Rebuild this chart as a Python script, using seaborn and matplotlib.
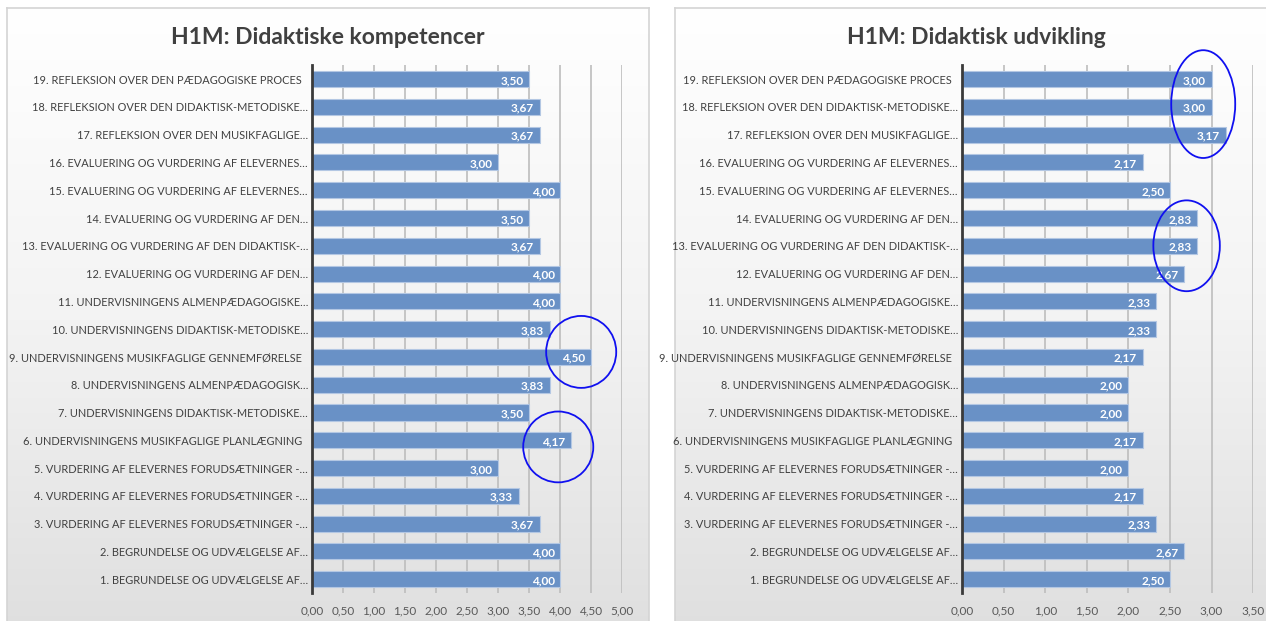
import numpy as np
import pandas as pd
import matplotlib
matplotlib.use("Agg")
import matplotlib.pyplot as plt
from matplotlib.patches import Ellipse
import seaborn as sns

# data, item 1 .. 19
items = [
    "1. BEGRUNDELSE OG UDVÆLGELSE AF…",
    "2. BEGRUNDELSE OG UDVÆLGELSE AF…",
    "3. VURDERING AF ELEVERNES FORUDSÆTNINGER -…",
    "4. VURDERING AF ELEVERNES FORUDSÆTNINGER -…",
    "5. VURDERING AF ELEVERNES FORUDSÆTNINGER -…",
    "6. UNDERVISNINGENS MUSIKFAGLIGE PLANLÆGNING  ",
    "7. UNDERVISNINGENS DIDAKTISK-METODISKE…",
    "8. UNDERVISNINGENS ALMENPÆDAGOGISK…",
    "9. UNDERVISNINGENS MUSIKFAGLIGE GENNEMFØRELSE  ",
    "10. UNDERVISNINGENS DIDAKTISK-METODISKE…",
    "11. UNDERVISNINGENS ALMENPÆDAGOGISKE…",
    "12. EVALUERING OG VURDERING AF DEN…",
    "13. EVALUERING OG VURDERING AF DEN DIDAKTISK-…",
    "14. EVALUERING OG VURDERING AF DEN…",
    "15. EVALUERING OG VURDERING AF ELEVERNES…",
    "16. EVALUERING OG VURDERING AF ELEVERNES…",
    "17. REFLEKSION OVER DEN MUSIKFAGLIGE…",
    "18. REFLEKSION OVER DEN DIDAKTISK-METODISKE…",
    "19. REFLEKSION OVER DEN PÆDAGOGISKE PROCES  ",
]
kompetencer = [4.00, 4.00, 3.67, 3.33, 3.00, 4.17, 3.50, 3.83, 4.50, 3.83,
               4.00, 4.00, 3.67, 3.50, 4.00, 3.00, 3.67, 3.67, 3.50]
udvikling = [2.50, 2.67, 2.33, 2.17, 2.00, 2.17, 2.00, 2.00, 2.17, 2.33,
             2.33, 2.67, 2.83, 2.83, 2.50, 2.17, 3.17, 3.00, 3.00]
titles = ["H1M: Didaktiske kompetencer", "H1M: Didaktisk udvikling"]
xmax = [5.0, 3.5]

sns.set_style("white")
plt.rcParams['font.family'] = ['Lato', 'DejaVu Sans']

fig = plt.figure(figsize=(12.66, 6.21), dpi=100)

bar_col = "#6991c6"
txt_col = "#404040"

# gradient panels
grad = np.linspace(0, 1, 256).reshape(-1, 1)
cmap = matplotlib.colors.LinearSegmentedColormap.from_list(
    "g", ["#ffffff", "#f3f3f3", "#dfdfdf"])
panel_rects = [[0.0055, -0.02, 0.507, 1.007], [0.533, -0.02, 0.48, 1.007]]
for r in panel_rects:
    bg = fig.add_axes(r, zorder=0)
    bg.imshow(grad, aspect="auto", cmap=cmap, extent=[0, 1, 0, 1], origin="upper")
    bg.set_xticks([])
    bg.set_yticks([])
    for s in bg.spines.values():
        s.set_color("#d4d4d4")
        s.set_linewidth(1.2)

axes_rects = [[0.2465, 0.045, 0.2449, 0.850], [0.7600, 0.045, 0.2298, 0.850]]
title_x = [328 / 1266, 976 / 1266]

for k, vals in enumerate([kompetencer, udvikling]):
    ax = fig.add_axes(axes_rects[k], zorder=2)
    ax.patch.set_alpha(0)
    df = pd.DataFrame({"item": items[::-1], "value": vals[::-1]})
    sns.barplot(data=df, x="value", y="item", orient="h", color=bar_col,
                saturation=1, width=0.58, edgecolor="#b3c7e3", linewidth=0.8,
                ax=ax, zorder=3)
    for i, v in enumerate(df["value"]):
        ax.annotate(f"{v:.2f}".replace(".", ","), (v, i), xytext=(-4, -1),
                    textcoords="offset points", ha="right", va="center",
                    color="white", fontsize=8.5, fontweight="bold", zorder=4)
    ticks = np.arange(0, xmax[k] + 0.01, 0.5)
    ax.set_xlim(0, xmax[k])
    ax.set_xticks(ticks)
    ax.set_xticklabels([f"{t:.2f}".replace(".", ",") for t in ticks],
                       fontsize=8.5, color="#595959")
    ax.set_xlabel("")
    ax.set_ylabel("")
    ax.tick_params(axis="x", length=0, pad=9)
    ax.tick_params(axis="y", length=0, pad=3)
    for lab in ax.get_yticklabels():
        lab.set_fontsize(7.9)
        lab.set_color(txt_col)
    ax.grid(axis="x", color="#bdbdbd", linewidth=1.2, zorder=1)
    ax.set_axisbelow(True)
    for s in ["top", "right", "bottom"]:
        ax.spines[s].set_visible(False)
    ax.spines["left"].set_color("#3a3a3a")
    ax.spines["left"].set_linewidth(2)
    ax.spines["left"].set_zorder(5)
    fig.text(title_x[k], 1 - 37 / 621, titles[k], ha="center", va="center",
             fontsize=16.5, fontweight="bold", color=txt_col)

    # hand drawn highlight circles
    if k == 0:
        ax.add_patch(Ellipse((4.34, 9.82), 1.13, 2.59, fill=False, edgecolor="#1010f0",
                             linewidth=1.3, zorder=6, clip_on=False))
        ax.add_patch(Ellipse((3.97, 13.24), 1.13, 2.55, fill=False, edgecolor="#1010f0",
                             linewidth=1.3, zorder=6, clip_on=False))
    else:
        ax.add_patch(Ellipse((2.90, 0.90), 0.77, 3.88, fill=False, edgecolor="#1010f0",
                             linewidth=1.3, zorder=6, clip_on=False))
        ax.add_patch(Ellipse((2.70, 6.00), 0.80, 3.27, fill=False, edgecolor="#1010f0",
                             linewidth=1.3, zorder=6, clip_on=False))

fig.savefig("out.png", dpi=100)
